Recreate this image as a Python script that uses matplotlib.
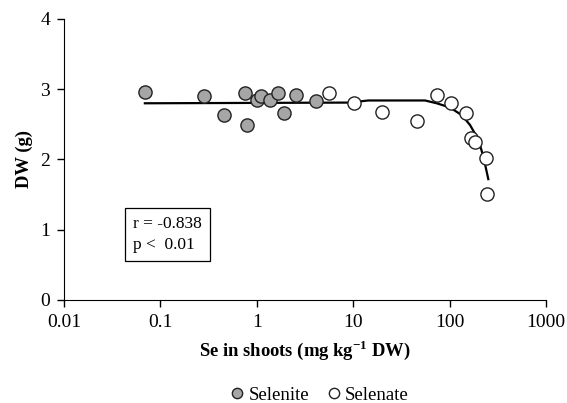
import numpy as np
import matplotlib
matplotlib.use("Agg")
import matplotlib.pyplot as plt
from matplotlib.ticker import FixedLocator, FixedFormatter, NullLocator

plt.rcParams['font.family'] = ['Liberation Serif', 'DejaVu Serif']

# Selenite (grey) points
selenite_x = [0.069, 0.285, 0.454, 0.76, 0.785, 1.01, 1.11, 1.37, 1.67, 1.93, 2.53, 4.11]
selenite_y = [2.96, 2.90, 2.64, 2.95, 2.49, 2.84, 2.90, 2.85, 2.95, 2.66, 2.92, 2.83]

# Selenate (open) points
selenate_x = [5.65, 10.3, 19.8, 45.5, 74.6, 102.6, 149, 167, 185, 240, 246]
selenate_y = [2.95, 2.80, 2.68, 2.55, 2.92, 2.81, 2.66, 2.30, 2.25, 2.02, 1.51]

# fitted curve as drawn
fit_x = [0.069, 9.27, 14.3, 55.6, 73.5, 101, 134, 163, 199, 224, 252]
fit_y = [2.80, 2.81, 2.84, 2.84, 2.80, 2.74, 2.63, 2.49, 2.28, 2.04, 1.72]

xticks = [0.01, 0.1, 1, 10, 100, 1000]
xtick_labels = ['0.01', '0.1', '1', '10', '100', '1000']
yticks = [0, 1, 2, 3, 4]

fig = plt.figure(figsize=(5.67, 4.03), dpi=100)
ax = fig.add_axes([0.1129, 0.2556, 0.963 - 0.1129, 0.9529 - 0.2556])

ax.plot(fit_x, fit_y, color='black', lw=1.6, zorder=2)
ax.plot(selenite_x, selenite_y, 'o', ms=9.5, mfc='#a6a6a6', mec='#222222', mew=1.0,
        label='Selenite', zorder=3)
ax.plot(selenate_x, selenate_y, 'o', ms=9.5, mfc='white', mec='#222222', mew=1.0,
        label='Selenate', zorder=3)

ax.set_xscale('log')
ax.set_xlim(0.01, 1000)
ax.set_ylim(0, 4)
ax.xaxis.set_major_locator(FixedLocator(xticks))
ax.xaxis.set_major_formatter(FixedFormatter(xtick_labels))
ax.xaxis.set_minor_locator(NullLocator())
ax.set_yticks(yticks)

ax.spines['top'].set_visible(False)
ax.spines['right'].set_visible(False)
ax.tick_params(direction='out', length=5, width=1, labelsize=14, pad=5)

ax.set_xlabel('Se in shoots (mg kg$^{\\mathregular{-1}}$ DW)', fontsize=13.4,
              fontweight='bold', labelpad=5)
ax.set_ylabel('DW (g)', fontsize=13.4, fontweight='bold', labelpad=5)

ax.text(0.143, 0.93, 'r = -0.838\np <  0.01', transform=ax.get_yaxis_transform(),
        fontsize=12.5, va='center', ha='left', linespacing=1.45,
        bbox=dict(boxstyle='square,pad=0.45', fc='white', ec='black', lw=0.9))

fig.legend(loc='center', bbox_to_anchor=(0.563, 0.02), ncol=2, frameon=False,
           fontsize=13.5, handletextpad=0.2, columnspacing=0.9, markerscale=0.78,
           handlelength=0.8)

fig.savefig('out.png', dpi=100)
